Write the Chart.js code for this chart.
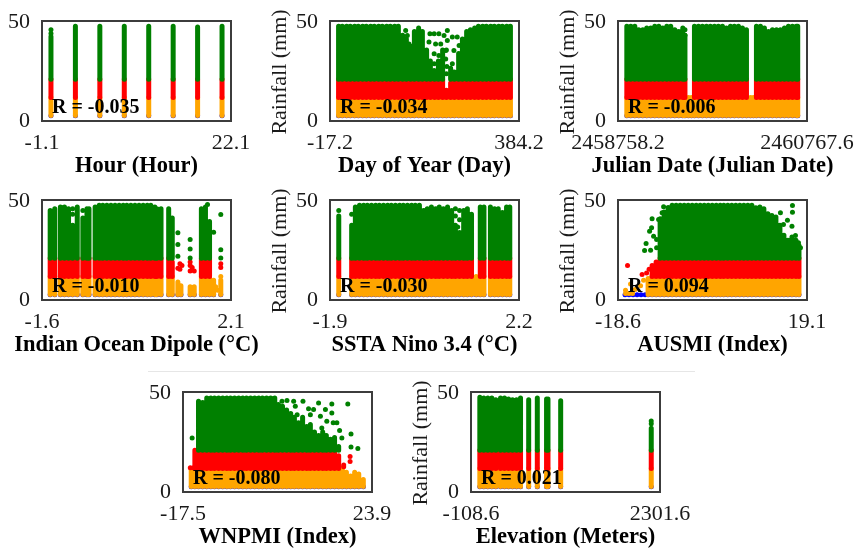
<!DOCTYPE html>
<html>
<head>
<meta charset="utf-8">
<title>Rainfall scatter panels</title>
<script src="https://cdn.jsdelivr.net/npm/chart.js@4"></script>
<style>
  html, body { margin: 0; padding: 0; background: #fff; overflow: hidden; width: 858px; height: 553px; }
  canvas { position: absolute; filter: blur(0.45px); }
  .rule { position: absolute; background: #e6e6e6; }
</style>
</head>
<body>
<div class="rule" style="left:148px;top:371px;width:547px;height:1px"></div>
<script>
// each x list is a column of the cloud, the *Top lists are how high that column reaches (0 = nothing there)
const hourX = [0, 3, 6, 9, 12, 15, 18, 21];
const hourGreenTop = [43.4, 49, 49, 49, 49, 49, 48.5, 49];
const hourRedTop = [20, 20, 20, 20, 20, 20, 20, 20];
const hourOrangeTop = [10, 10, 10, 10, 10, 10, 10, 10];
const hourGreenDots = [[0, 47], [0, 45]];

const dayX = [1, 9, 18, 26, 35, 43, 52, 60, 69, 77, 86, 94, 103, 111, 120, 128, 137, 145, 154, 162, 171, 179, 188, 196, 205, 213, 222, 230, 239, 247, 256, 264, 273, 281, 290, 298, 307, 315, 324, 332, 341, 349, 358, 366];
const dayGreenTop = [49, 49, 49, 49, 49, 49, 49, 49, 49, 49, 49, 49, 49, 49, 49, 49, 44, 42, 38, 46, 48, 46, 36, 30, 24, 30, 36, 0, 26, 24, 34, 42, 46, 47, 48, 49, 49, 49, 49, 49, 49, 49, 49, 49];
const dayRedTop = [20, 20, 20, 20, 20, 20, 20, 20, 20, 20, 20, 20, 20, 20, 20, 20, 20, 20, 20, 20, 20, 20, 20, 20, 18, 20, 20, 14, 18, 20, 20, 20, 20, 20, 20, 20, 20, 20, 20, 20, 20, 20, 20, 20];
const dayOrangeTop = [10, 10, 10, 10, 10, 10, 10, 10, 10, 10, 10, 10, 10, 10, 10, 10, 10, 10, 10, 10, 10, 10, 10, 10, 10, 10, 10, 10, 10, 10, 10, 10, 10, 10, 10, 10, 10, 10, 10, 10, 10, 10, 10, 10];
const dayGreenDots = [[143.5, 46.6], [147, 43.9], [133, 40.3], [150.6, 39.3], [133, 37.5], [195, 44.8], [204, 44.8], [214, 44.8], [225, 43.9], [193, 40.3], [207, 39.3], [218, 39.3], [232, 46.6], [232, 41.2], [228.5, 35.7], [204, 33.9], [214, 33], [228.5, 31.1], [218, 28.4], [242.6, 43], [246, 35.7], [253, 43], [257, 38.4], [260, 32], [204, 28.4], [242.6, 28.4], [204, 24.8], [242.6, 23.9], [230, 36], [231, 27], [230, 23]];

const julianX = [2458852, 2458894, 2458937, 2458979, 2459022, 2459064, 2459107, 2459149, 2459192, 2459234, 2459277, 2459319, 2459362, 2459404, 2459447, 2459470, 2459507, 2459539, 2459571, 2459614, 2459656, 2459699, 2459741, 2459784, 2459826, 2459869, 2459911, 2459954, 2459996, 2460039, 2460081, 2460124, 2460167, 2460198, 2460230, 2460273, 2460315, 2460358, 2460400, 2460443, 2460485, 2460528, 2460570, 2460613, 2460655, 2460669];
const julianGreenTop = [49, 49, 49, 47, 47, 48, 48, 49, 49, 48, 49, 49, 47, 46, 48, 44, 0, 0, 49, 49, 49, 49, 49, 49, 49, 49, 48, 49, 49, 49, 48, 47, 0, 0, 49, 49, 48, 46, 47, 47, 47, 48, 49, 49, 49, 49];
const julianRedTop = [20, 20, 20, 20, 20, 20, 20, 20, 20, 20, 20, 20, 20, 20, 20, 20, 0, 0, 20, 20, 20, 20, 20, 20, 20, 20, 20, 20, 20, 20, 20, 20, 0, 0, 20, 20, 20, 20, 20, 20, 20, 20, 20, 20, 20, 20];
const julianOrangeTop = [10, 10, 10, 10, 10, 10, 10, 10, 10, 10, 10, 10, 10, 10, 10, 10, 10, 10, 10, 10, 10, 10, 10, 10, 10, 10, 10, 10, 10, 10, 10, 10, 10, 10, 10, 10, 10, 10, 10, 10, 10, 10, 10, 10, 10, 10];
const julianGreenDots = [[2459470, 47], [2459470, 44]];

const iodX = [-1.44, -1.35, -1.24, -1.16, -1.08, -1.0, -0.91, -0.80, -0.72, -0.68, -0.56, -0.48, -0.41, -0.33, -0.25, -0.17, -0.09, -0.01, 0.06, 0.14, 0.22, 0.30, 0.38, 0.46, 0.53, 0.61, 0.65, 0.73, 0.88, 0.95, 1.06, 1.12, 1.30, 1.38, 1.52, 1.60, 1.68, 1.76, 1.90];
const iodGreenTop = [46, 47, 48, 48, 47, 38, 48, 42, 47, 47, 48, 49, 49, 49, 49, 49, 49, 49, 49, 49, 49, 49, 49, 49, 49, 48, 47, 47, 47, 42, 0, 0, 0, 0, 47, 48, 40, 0, 0];
const iodRedTop = [20, 20, 20, 20, 20, 20, 20, 20, 20, 20, 20, 20, 20, 20, 20, 20, 20, 20, 20, 20, 20, 20, 20, 20, 20, 20, 20, 20, 20, 18, 0, 0, 0, 0, 20, 20, 20, 0, 0];
const iodOrangeTop = [10, 10, 10, 10, 10, 10, 10, 10, 10, 10, 10, 10, 10, 10, 10, 10, 10, 10, 10, 10, 10, 10, 10, 10, 10, 10, 10, 10, 10, 10, 7, 5, 4.5, 4.5, 10, 10, 10, 8, 8];
const iodGreenDots = [[1.06, 33.9], [1.06, 27.5], [1.06, 21.1], [1.30, 30.2], [1.30, 25.1], [1.30, 20.2], [1.90, 43.9], [1.90, 24.6], [1.90, 20.2], [1.76, 34.2], [1.64, 49.3], [-1.0, 44], [-1.0, 47], [-0.80, 46]];
const iodRedDots = [[1.10, 17], [1.14, 16], [1.10, 14], [1.06, 14.5], [1.30, 18], [1.30, 16], [1.30, 13], [1.38, 13], [1.34, 15], [1.90, 17], [1.90, 15]];
const iodOrangeDots = [[1.9, 10], [1.80, 4.5], [1.84, 2.5]];

const ninoX = [-1.71, -1.43, -1.35, -1.26, -1.17, -1.09, -1.0, -0.91, -0.83, -0.74, -0.65, -0.57, -0.48, -0.39, -0.31, -0.22, -0.13, -0.05, 0.04, 0.13, 0.21, 0.30, 0.39, 0.47, 0.56, 0.65, 0.74, 0.82, 0.91, 1.0, 1.08, 1.17, 1.27, 1.36, 1.44, 1.58, 1.67, 1.75, 1.84, 1.93, 2.0];
const ninoGreenTop = [43, 38, 48, 49, 49, 49, 49, 49, 49, 49, 49, 49, 49, 49, 49, 49, 49, 49, 49, 46, 47, 48, 47, 48, 47, 48, 46, 38, 34, 46, 47, 44, 0, 48, 48, 48, 47, 47, 45, 48, 48];
const ninoRedTop = [20, 20, 20, 20, 20, 20, 20, 20, 20, 20, 20, 20, 20, 20, 20, 20, 20, 20, 20, 20, 20, 20, 20, 20, 20, 20, 20, 20, 20, 20, 20, 20, 0, 20, 20, 20, 20, 20, 20, 20, 20];
const ninoOrangeTop = [10, 10, 10, 10, 10, 10, 10, 10, 10, 10, 10, 10, 10, 10, 10, 10, 10, 10, 10, 10, 10, 10, 10, 10, 10, 10, 10, 10, 10, 10, 10, 10, 10, 10, 10, 10, 10, 10, 10, 10, 10];
const ninoGreenDots = [[0.82, 47], [0.82, 43], [0.91, 46], [0.91, 41], [0.87, 37], [-1.71, 46], [-1.43, 44]];

const ausmiX = [-17.2, -16.4, -15.6, -14.8, -14.0, -13.2, -12.6, -11.8, -11.0, -10.2, -9.4, -8.6, -7.8, -7.0, -6.2, -5.4, -4.6, -3.8, -3.0, -2.2, -1.4, -0.6, 0.2, 1.0, 1.8, 2.5, 3.3, 4.1, 4.9, 5.7, 6.5, 7.3, 8.1, 8.9, 9.7, 10.5, 11.3, 12.1, 12.9, 13.7, 14.5, 15.3, 16.1, 16.9, 17.5];
const ausmiGreenTop = [0, 0, 0, 0, 0, 0, 0, 0, 0, 41.6, 45.3, 47.7, 48.9, 48.9, 48.9, 48.9, 48.9, 48.9, 48.9, 48.9, 48.9, 48.9, 48.9, 48.9, 48.9, 48.9, 48.9, 48.9, 48.9, 48.9, 48.9, 48.9, 48.9, 47.6, 48, 47, 44.3, 43.4, 42.5, 38, 32.5, 29.8, 31.6, 29.8, 27];
const ausmiRedTop = [0, 0, 0, 0, 0, 0, 0, 16, 18, 20, 20, 20, 20, 20, 20, 20, 20, 20, 20, 20, 20, 20, 20, 20, 20, 20, 20, 20, 20, 20, 20, 20, 20, 20, 20, 20, 20, 20, 20, 20, 20, 20, 20, 20, 20];
const ausmiOrangeTop = [0, 0, 0, 0, 0, 0, 9, 10, 10, 10, 10, 10, 10, 10, 10, 10, 10, 10, 10, 10, 10, 10, 10, 10, 10, 10, 10, 10, 10, 10, 10, 10, 10, 10, 10, 10, 10, 10, 10, 10, 10, 10, 10, 10, 10];
const ausmiGreenDots = [[-11.8, 41.5], [-11.9, 36.6], [-12.3, 34.8], [-11.5, 32], [-13, 28], [-13.3, 24.2], [-12.1, 24.4], [-10.9, 30.2], [-10.5, 41.2], [-9.5, 48.1], [-9.8, 44.8], [-10.9, 25.7], [16.2, 48.8], [16.2, 45.1], [13.8, 44.8], [15.2, 40.8], [14.4, 38.4], [16.8, 32.4], [16.1, 37.5], [17.4, 28.4], [17.8, 25.7]];
const ausmiRedDots = [[-16.7, 16], [-13.8, 11.1], [-12.4, 14], [-12.9, 12]];
const ausmiOrangeDots = [[-14.1, 5], [-17.1, 2.5], [-16.1, 6], [-13.5, 8], [-15.2, 3], [-17.1, 0.8], [-16.4, 0.8], [-15.7, 0.8]];

const wnpmiX = [-15.7, -14.9, -14.1, -13.2, -12.3, -11.4, -10.6, -9.7, -8.8, -7.9, -7.1, -6.2, -5.3, -4.4, -3.6, -2.7, -1.8, -0.9, -0.1, 0.8, 1.7, 2.6, 3.4, 4.3, 5.2, 6.1, 6.9, 7.8, 8.7, 9.6, 10.4, 11.3, 12.2, 13.1, 13.9, 14.8, 15.7, 16.6, 17.4, 18.3, 19.2, 20.1, 21, 22];
const wnpmiGreenTop = [0, 0, 46.7, 46, 48.5, 48.5, 48.5, 48.5, 48.5, 48.5, 48.5, 48.5, 48.5, 48.5, 48.5, 48.5, 48.5, 48.5, 48.5, 48.5, 48.5, 48.5, 45, 44, 42, 40, 38, 35, 38, 33, 34, 30, 28, 30, 28, 26, 27, 22, 0, 0, 0, 0, 0, 0];
const wnpmiRedTop = [0, 20, 20, 20, 20, 20, 20, 20, 20, 20, 20, 20, 20, 20, 20, 20, 20, 20, 20, 20, 20, 20, 20, 20, 20, 20, 20, 20, 20, 20, 20, 20, 20, 20, 20, 20, 19, 17, 0, 0, 0, 0, 0, 0];
const wnpmiOrangeTop = [10, 10, 10, 10, 10, 10, 10, 10, 10, 10, 10, 10, 10, 10, 10, 10, 10, 10, 10, 10, 10, 10, 10, 10, 10, 10, 10, 10, 10, 10, 10, 10, 10, 10, 10, 10, 10, 10, 10, 8, 6, 8, 7, 4];
const wnpmiGreenDots = [[4.18, 46.7], [5.28, 47.1], [6.74, 46.7], [8.78, 46.7], [7.1, 44], [10.0, 42.7], [11.1, 42.2], [12.2, 45.8], [15.1, 45.2], [18.6, 45.2], [13.7, 42.2], [15.1, 40.3], [16.2, 35], [16.8, 30.8], [15.4, 35], [19.3, 28.9], [19.3, 21.8], [20.8, 21], [-15.5, 26.7], [7.5, 39.4], [10.4, 39.4], [12.6, 38.5], [14, 35.8], [12.9, 32.1], [17.3, 26.7]];
const wnpmiRedDots = [[19.1, 16.6], [19.1, 13.9], [-15.9, 10.5], [-15.2, 10.5], [17.7, 11], [16.6, 12], [17.7, 12], [15.5, 13]];

const elevX = [4, 55, 106, 157, 208, 268, 319, 370, 421, 472, 523, 627, 737, 855, 873, 1035, 2190];
const elevGreenTop = [49, 48.5, 48.5, 48.5, 47.6, 48.5, 48.5, 48, 47.6, 47.6, 48.5, 47.6, 48.5, 48, 48, 47, 32];
const elevRedTop = [20, 20, 20, 20, 20, 20, 20, 20, 20, 20, 20, 20, 20, 20, 20, 20, 20];
const elevOrangeTop = [10, 10, 10, 10, 10, 10, 10, 10, 10, 10, 10, 10, 10, 10, 10, 10, 10];
const elevGreenDots = [[2190, 36], [2190, 34.5]];

// x axis end labels and panel captions
const xRanges = [[-1.1, 22.1], [-17.2, 384.2], [2458758.2, 2460767.6], [-1.6, 2.1], [-1.9, 2.2], [-18.6, 19.1], [-17.5, 23.9], [-108.6, 2301.6]];
const xTitles = ["Hour (Hour)", "Day of Year (Day)", "Julian Date (Julian Date)", "Indian Ocean Dipole (°C)", "SSTA Nino 3.4 (°C)", "AUSMI (Index)", "WNPMI (Index)", "Elevation (Meters)"];
const rLabels = ["R = -0.035", "R = -0.034", "R = -0.006", "R = -0.010", "R = -0.030", "R = 0.094", "R = -0.080", "R = 0.021"];
const yTickLabels = ["0", "50"];
const yTickValues = [-2.8, 51.1];
const yTitle = "Rainfall (mm)";
const yRange = [-2.8, 51.8];

const panels = [
  { x: hourX, green: hourGreenTop, red: hourRedTop, orange: hourOrangeTop, greenDots: hourGreenDots, left: 42, top: 21, yTitle: false },
  { x: dayX, green: dayGreenTop, red: dayRedTop, orange: dayOrangeTop, greenDots: dayGreenDots, left: 330, top: 21, yTitle: true },
  { x: julianX, green: julianGreenTop, red: julianRedTop, orange: julianOrangeTop, greenDots: julianGreenDots, left: 618, top: 21, yTitle: true },
  { x: iodX, green: iodGreenTop, red: iodRedTop, orange: iodOrangeTop, greenDots: iodGreenDots, redDots: iodRedDots, orangeDots: iodOrangeDots, left: 42, top: 200, yTitle: false },
  { x: ninoX, green: ninoGreenTop, red: ninoRedTop, orange: ninoOrangeTop, greenDots: ninoGreenDots, left: 330, top: 200, yTitle: true },
  { x: ausmiX, green: ausmiGreenTop, red: ausmiRedTop, orange: ausmiOrangeTop, greenDots: ausmiGreenDots, redDots: ausmiRedDots, orangeDots: ausmiOrangeDots, left: 618, top: 200, yTitle: true },
  { x: wnpmiX, green: wnpmiGreenTop, red: wnpmiRedTop, orange: wnpmiOrangeTop, greenDots: wnpmiGreenDots, redDots: wnpmiRedDots, left: 183, top: 392, yTitle: false },
  { x: elevX, green: elevGreenTop, red: elevRedTop, orange: elevOrangeTop, greenDots: elevGreenDots, left: 471, top: 392, yTitle: true },
];

const serif = "'Liberation Serif', 'Times New Roman', serif";
const colors = { green: "#008000", red: "#ff0000", orange: "#ffa500", blue: "#0000ff" };

const toColumns = (xs, low, tops) =>
  xs.flatMap((x, i) => (tops[i] ? [{ x, y: low }, { x, y: tops[i] }, { x, y: null }] : []));

const toPoints = (pairs) => (pairs || []).map(([x, y]) => ({ x, y }));

const columnSet = (data, color, order) => ({
  data,
  order,
  showLine: true,
  borderColor: color,
  borderWidth: 5,
  borderCapStyle: "round",
  pointRadius: 0,
  spanGaps: false,
});

const dotSet = (data, color, order) => ({
  data,
  order,
  showLine: false,
  backgroundColor: color,
  borderWidth: 0,
  pointRadius: 2.5,
});

// box around the plot, R value on top of the points, axis captions
// (the scale's own title squeezes long captions down to the plot width)
const panelExtras = {
  id: "panelExtras",
  afterDraw(chart, args, opts) {
    const { ctx, chartArea } = chart;
    ctx.save();
    ctx.strokeStyle = "#3c3c3c";
    ctx.lineWidth = 2;
    ctx.strokeRect(chartArea.left, chartArea.top, chartArea.width, chartArea.height);
    ctx.fillStyle = "#000";
    ctx.textBaseline = "middle";
    ctx.font = "bold 20px " + serif;
    ctx.fillText(opts.text, chartArea.left + 10, chartArea.top + 87);
    ctx.font = "bold 22.5px " + serif;
    ctx.textAlign = "center";
    ctx.fillText(opts.xTitle, (chartArea.left + chartArea.right) / 2, chartArea.bottom + 45.5);
    if (opts.yTitle) {
      ctx.font = "22px " + serif;
      ctx.fillStyle = "#1a1a1a";
      ctx.translate(chartArea.left - 50, (chartArea.top + chartArea.bottom) / 2 + 1);
      ctx.rotate(-Math.PI / 2);
      ctx.fillText(opts.yTitle, 0, 0);
    }
    ctx.restore();
  },
};

panels.forEach((p, i) => {
  const canvas = document.createElement("canvas");
  canvas.width = 313;
  canvas.height = 180;
  canvas.style.left = p.left - 64 + "px";
  canvas.style.top = p.top - 20 + "px";
  document.body.appendChild(canvas);

  const [xMin, xMax] = xRanges[i];
  new Chart(canvas, {
    type: "scatter",
    plugins: [panelExtras],
    data: {
      datasets: [
        dotSet(toPoints(p.greenDots), colors.green, 1),
        columnSet(toColumns(p.x, 20, p.green), colors.green, 1),
        dotSet(toPoints(p.redDots), colors.red, 2),
        columnSet(toColumns(p.x, 10, p.red), colors.red, 2),
        dotSet(toPoints(p.orangeDots), colors.orange, 3),
        columnSet(toColumns(p.x, 0.2, p.orange), colors.orange, 3),
        dotSet(p.x.map((x) => ({ x, y: 0 })), colors.blue, 4),
      ],
    },
    options: {
      responsive: false,
      animation: false,
      layout: { padding: { top: 20, right: 60, left: 0, bottom: 0 } },
      plugins: {
        legend: { display: false },
        tooltip: { enabled: false },
        panelExtras: { text: rLabels[i], xTitle: xTitles[i], yTitle: p.yTitle ? yTitle : "" },
      },
      scales: {
        x: {
          type: "linear",
          min: xMin,
          max: xMax,
          grid: { display: false },
          border: { display: false },
          afterBuildTicks: (scale) => {
            scale.ticks = [{ value: xMin }, { value: xMax }];
          },
          afterFit: (scale) => {
            scale.height = 60;
            scale.paddingLeft = 0;
            scale.paddingRight = 0;
          },
          ticks: {
            autoSkip: false,
            maxRotation: 0,
            padding: 1.5,
            color: "#1a1a1a",
            font: { family: serif, size: 22 },
            callback: (value, index) => String(xRanges[i][index]),
          },
        },
        y: {
          min: yRange[0],
          max: yRange[1],
          grid: { display: false },
          border: { display: false },
          afterBuildTicks: (scale) => {
            scale.ticks = yTickValues.map((value) => ({ value }));
          },
          afterFit: (scale) => {
            scale.width = 64;
            scale.paddingTop = 0;
            scale.paddingBottom = 0;
          },
          ticks: {
            autoSkip: false,
            padding: 4,
            color: "#1a1a1a",
            font: { family: serif, size: 22 },
            callback: (value, index) => yTickLabels[index],
          },
        },
      },
    },
  });
});
</script>
</body>
</html>
